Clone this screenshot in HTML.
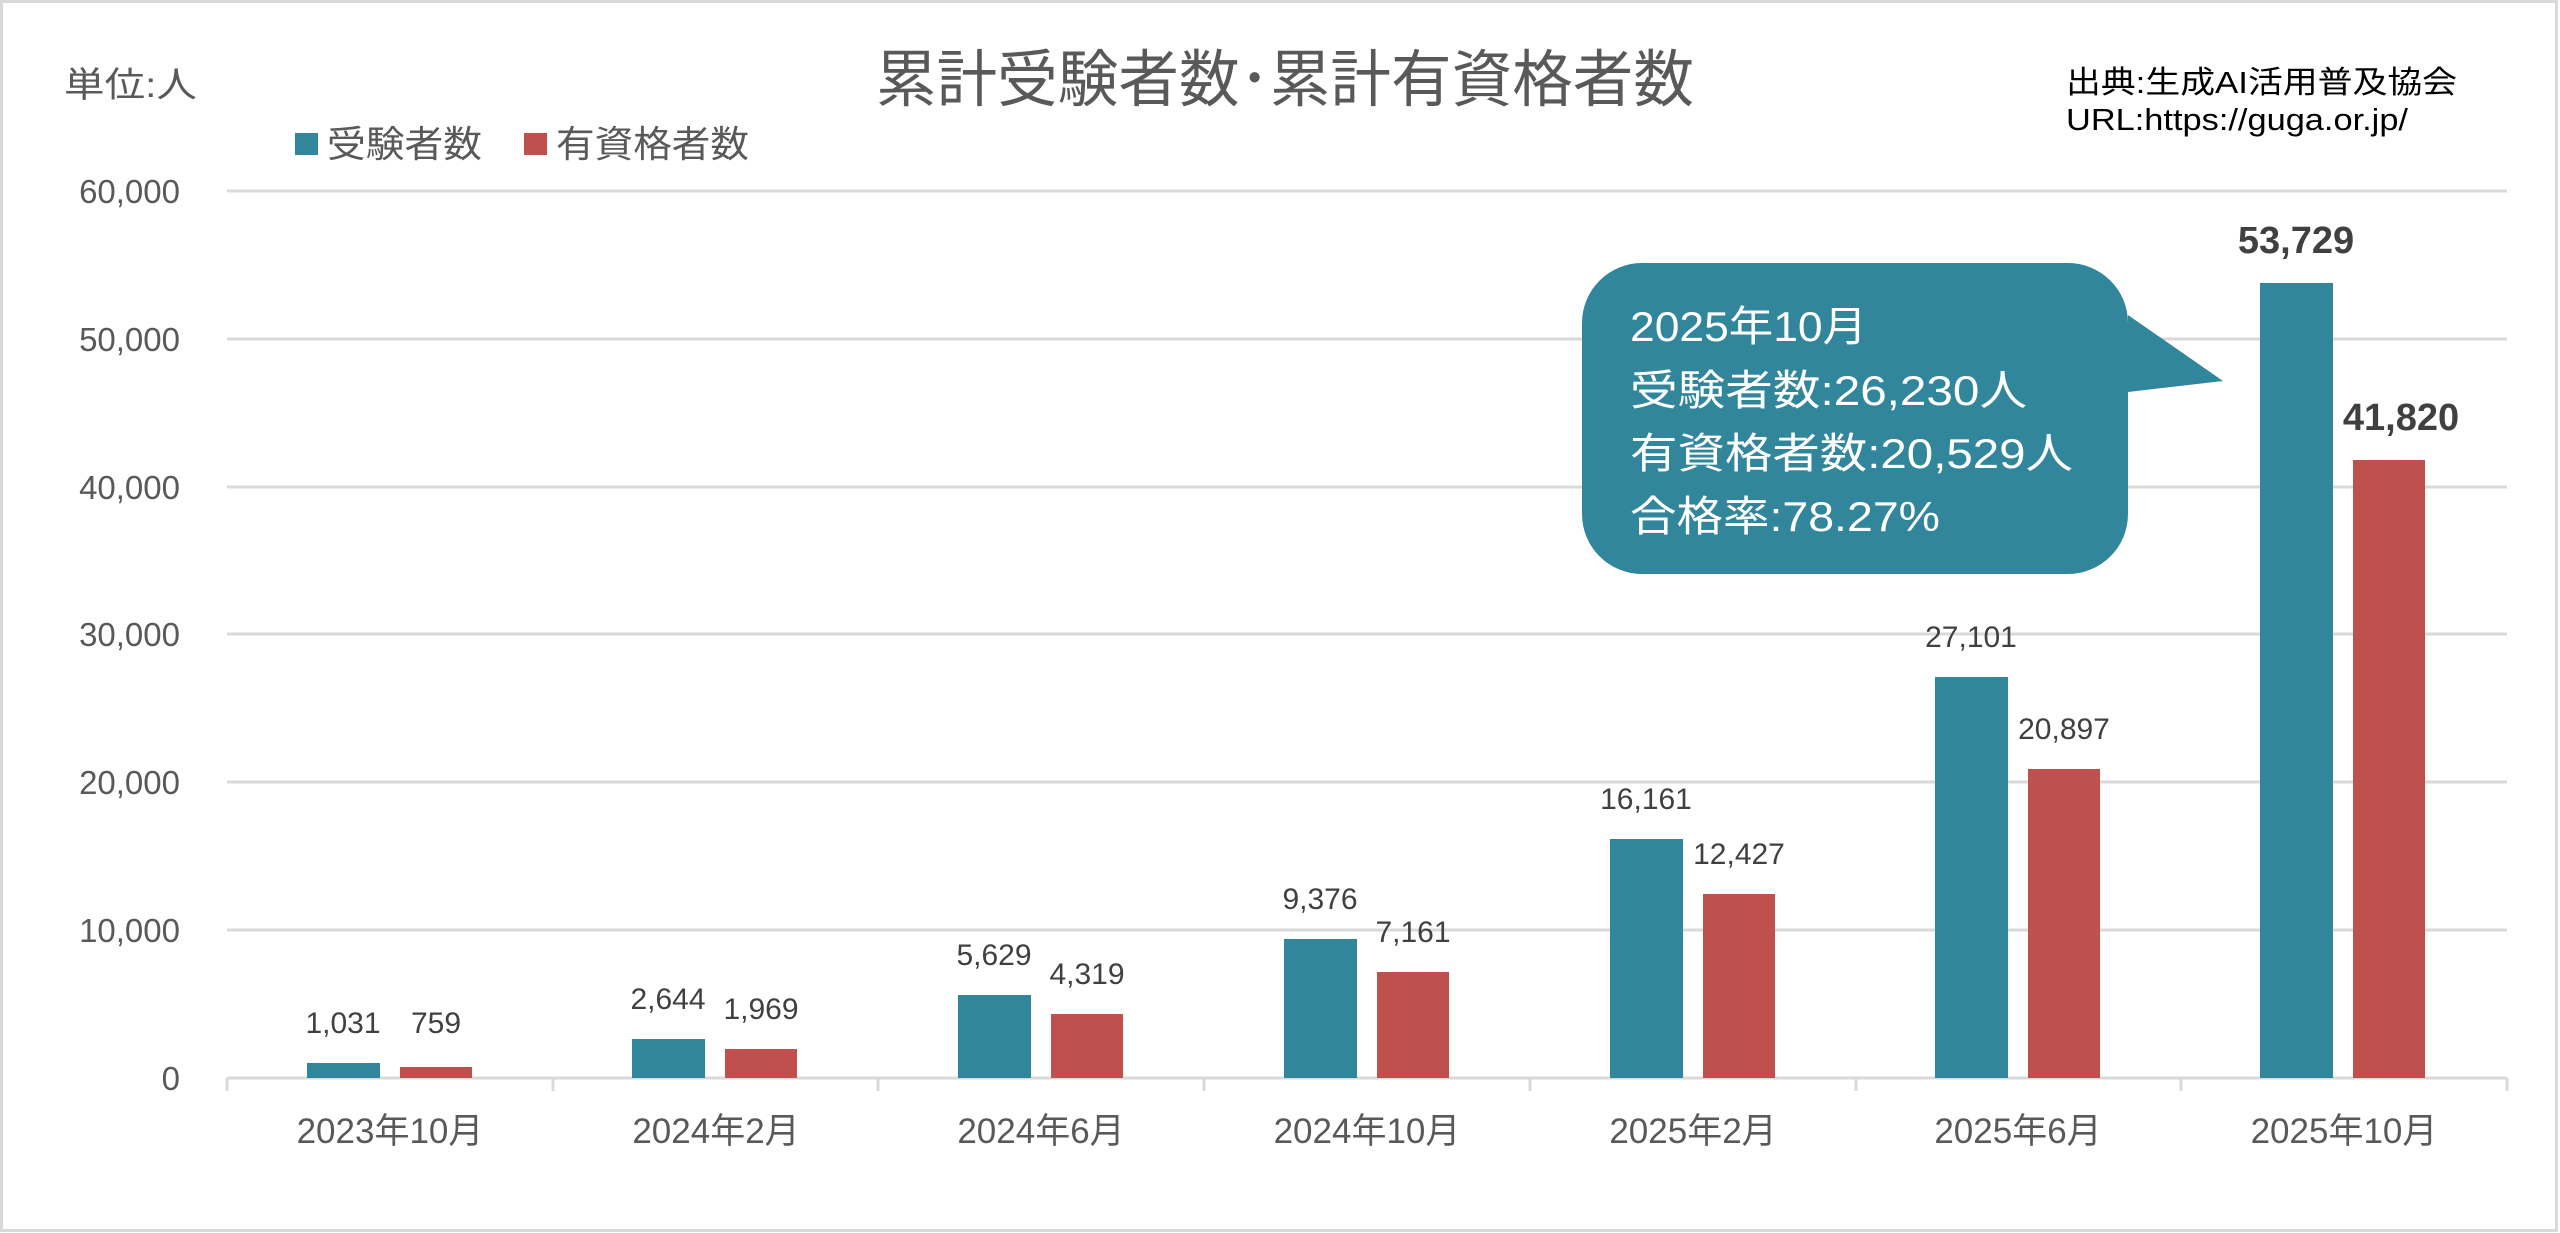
<!DOCTYPE html>
<html><head><meta charset="utf-8"><style>
html,body{margin:0;padding:0;background:#fff}
svg{display:block}
text{font-family:"Liberation Sans","Noto Sans CJK JP",sans-serif}
</style></head><body>
<svg width="2560" height="1233" viewBox="0 0 2560 1233" xmlns="http://www.w3.org/2000/svg">
<rect x="1.5" y="1.5" width="2555" height="1229" fill="#fff" stroke="#d9d9d9" stroke-width="3"/>
<g stroke="#d9d9d9" stroke-width="3">
<line x1="227" y1="191" x2="2507" y2="191"/>
<line x1="227" y1="339" x2="2507" y2="339"/>
<line x1="227" y1="487" x2="2507" y2="487"/>
<line x1="227" y1="634" x2="2507" y2="634"/>
<line x1="227" y1="782" x2="2507" y2="782"/>
<line x1="227" y1="930" x2="2507" y2="930"/>
<line x1="227" y1="1078" x2="2507" y2="1078"/>
<line x1="227" y1="1078" x2="227" y2="1091"/>
<line x1="553" y1="1078" x2="553" y2="1091"/>
<line x1="878" y1="1078" x2="878" y2="1091"/>
<line x1="1204" y1="1078" x2="1204" y2="1091"/>
<line x1="1530" y1="1078" x2="1530" y2="1091"/>
<line x1="1856" y1="1078" x2="1856" y2="1091"/>
<line x1="2181" y1="1078" x2="2181" y2="1091"/>
<line x1="2507" y1="1078" x2="2507" y2="1091"/>
</g>
<g fill="#595959" font-size="33" text-anchor="end">
<text x="180" y="203">60,000</text>
<text x="180" y="351">50,000</text>
<text x="180" y="499">40,000</text>
<text x="180" y="646">30,000</text>
<text x="180" y="794">20,000</text>
<text x="180" y="942">10,000</text>
<text x="180" y="1090">0</text>
</g>
<g fill="#31869b">
<rect x="307" y="1063" width="73" height="15"/>
<rect x="632" y="1039" width="73" height="39"/>
<rect x="958" y="995" width="73" height="83"/>
<rect x="1284" y="939" width="73" height="139"/>
<rect x="1610" y="839" width="73" height="239"/>
<rect x="1935" y="677" width="73" height="401"/>
<rect x="2260" y="283" width="73" height="795"/>
</g>
<g fill="#c0504d">
<rect x="400" y="1067" width="72" height="11"/>
<rect x="725" y="1049" width="72" height="29"/>
<rect x="1051" y="1014" width="72" height="64"/>
<rect x="1377" y="972" width="72" height="106"/>
<rect x="1703" y="894" width="72" height="184"/>
<rect x="2028" y="769" width="72" height="309"/>
<rect x="2353" y="460" width="72" height="618"/>
</g>
<g fill="#404040" font-size="30" text-anchor="middle">
<text x="343" y="1033">1,031</text>
<text x="436" y="1033">759</text>
<text x="668" y="1009">2,644</text>
<text x="761" y="1019">1,969</text>
<text x="994" y="965">5,629</text>
<text x="1087" y="984">4,319</text>
<text x="1320" y="909">9,376</text>
<text x="1413" y="942">7,161</text>
<text x="1646" y="809">16,161</text>
<text x="1739" y="864">12,427</text>
<text x="1971" y="647">27,101</text>
<text x="2064" y="739">20,897</text>
</g>
<g fill="#404040" font-size="38" font-weight="bold" text-anchor="middle">
<text x="2296" y="253">53,729</text>
<text x="2401" y="430">41,820</text>
</g>
<g fill="#595959" font-size="35" text-anchor="middle">
<text x="390" y="1143">2023年10月</text>
<text x="716" y="1143">2024年2月</text>
<text x="1041" y="1143">2024年6月</text>
<text x="1367" y="1143">2024年10月</text>
<text x="1693" y="1143">2025年2月</text>
<text x="2018" y="1143">2025年6月</text>
<text x="2344" y="1143">2025年10月</text>
</g>
<text x="1285" y="101" fill="#595959" font-size="62" text-anchor="middle" textLength="818" lengthAdjust="spacingAndGlyphs">累計受験者数･累計有資格者数</text>
<text x="64" y="97" fill="#595959" font-size="35" textLength="133" lengthAdjust="spacingAndGlyphs">単位:人</text>
<rect x="295" y="133" width="23" height="22" fill="#31869b"/>
<text x="327" y="157" fill="#595959" font-size="37" textLength="155" lengthAdjust="spacingAndGlyphs">受験者数</text>
<rect x="524" y="133" width="23" height="22" fill="#c0504d"/>
<text x="556" y="157" fill="#595959" font-size="37" textLength="193" lengthAdjust="spacingAndGlyphs">有資格者数</text>
<text x="2066" y="93" fill="#000" font-size="31" textLength="391" lengthAdjust="spacingAndGlyphs">出典:生成AI活用普及協会</text>
<text x="2066" y="130" fill="#000" font-size="31" textLength="342" lengthAdjust="spacingAndGlyphs">URL:https://guga.or.jp/</text>
<path d="M1645,263 H2068 A60,60 0 0 1 2128,323 V315 L2223,381 L2128,392 V514 A60,60 0 0 1 2068,574 H1642 A60,60 0 0 1 1582,514 V323 A60,60 0 0 1 1642,263 Z" fill="#31869b"/>
<g fill="#fff" font-size="42">
<text x="1630" y="341" textLength="237" lengthAdjust="spacingAndGlyphs">2025年10月</text>
<text x="1630" y="405" textLength="397" lengthAdjust="spacingAndGlyphs">受験者数:26,230人</text>
<text x="1630" y="468" textLength="443" lengthAdjust="spacingAndGlyphs">有資格者数:20,529人</text>
<text x="1630" y="531" textLength="310" lengthAdjust="spacingAndGlyphs">合格率:78.27%</text>
</g>
</svg>
</body></html>
